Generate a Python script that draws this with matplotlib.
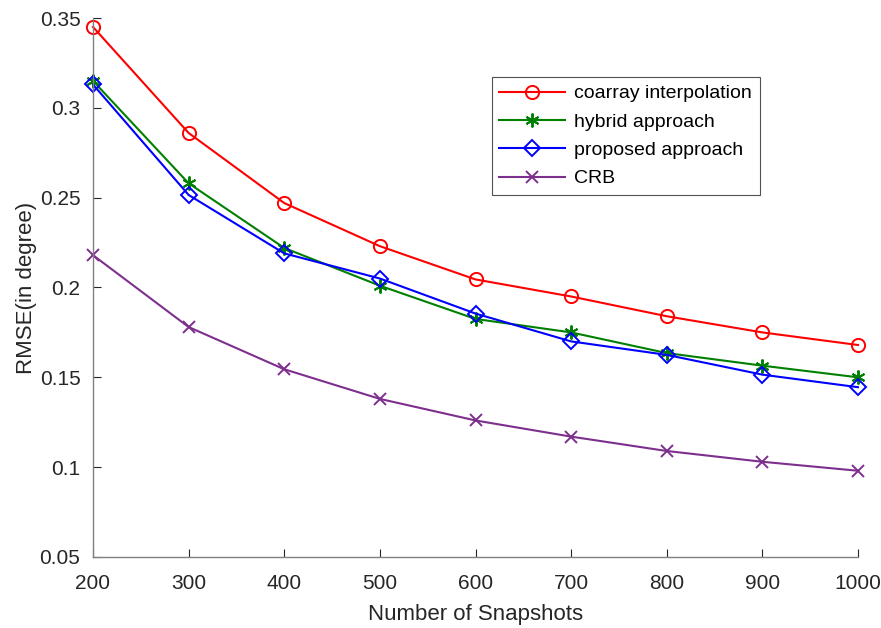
import matplotlib.pyplot as plt
import numpy as np

snapshots = [200, 300, 400, 500, 600, 700, 800, 900, 1000]
coarray = [0.345, 0.286, 0.247, 0.223, 0.2045, 0.195, 0.184, 0.175, 0.168]
hybrid = [0.315, 0.258, 0.222, 0.201, 0.1825, 0.175, 0.1635, 0.1565, 0.150]
proposed = [0.313, 0.2515, 0.219, 0.205, 0.1855, 0.170, 0.1625, 0.1515, 0.1445]
crb = [0.218, 0.178, 0.1545, 0.138, 0.126, 0.117, 0.109, 0.103, 0.098]

plt.rcParams['font.family'] = ['Liberation Sans', 'DejaVu Sans']

fig = plt.figure(figsize=(8.81, 6.28), dpi=100)
ax = fig.add_axes([93 / 881, 1 - 557 / 628, (858 - 93) / 881, (557 - 18) / 628])

ax.plot(snapshots, coarray, color='#ff0000', marker='o', markersize=9.5,
        markerfacecolor='none', markeredgewidth=1.4, linewidth=1.5,
        label='coarray interpolation', clip_on=False)
ax.plot(snapshots, hybrid, color='#008000', marker=(6, 2, 0), markersize=10,
        markeredgewidth=1.4, linewidth=1.5, label='hybrid approach', clip_on=False)
ax.plot(snapshots, proposed, color='#0000ff', marker='D', markersize=8,
        markerfacecolor='none', markeredgewidth=1.4, linewidth=1.5,
        label='proposed approach', clip_on=False)
ax.plot(snapshots, crb, color='#7e2f8e', marker='x', markersize=8.5,
        markeredgewidth=1.4, linewidth=1.5, label='CRB', clip_on=False)

ax.set_xlim(200, 1000)
ax.set_ylim(0.05, 0.35)
ax.set_xticks(snapshots)
ax.set_yticks(np.arange(0.05, 0.351, 0.05))
ax.set_yticklabels(['0.05', '0.1', '0.15', '0.2', '0.25', '0.3', '0.35'])

for s in ['top', 'right']:
    ax.spines[s].set_visible(False)
for s in ['left', 'bottom']:
    ax.spines[s].set_color('#808080')
    ax.spines[s].set_linewidth(1.0)
ax.tick_params(direction='in', length=6, colors='#262626', labelsize=15)
ax.tick_params(axis='x', pad=12)
ax.tick_params(axis='y', pad=9)

ax.set_xlabel('Number of Snapshots', fontsize=16, color='#262626', labelpad=8)
ax.set_ylabel('RMSE(in degree)', fontsize=16, color='#262626', labelpad=2)

leg = ax.legend(loc='upper left', bbox_to_anchor=(0.521, 0.8905), fontsize=14,
                frameon=True, fancybox=False, edgecolor='#262626',
                handlelength=3.4, borderpad=0.4, labelspacing=0.55,
                borderaxespad=0, handletextpad=0.45)
leg.get_frame().set_linewidth(0.8)

fig.savefig('out.png', dpi=100)
